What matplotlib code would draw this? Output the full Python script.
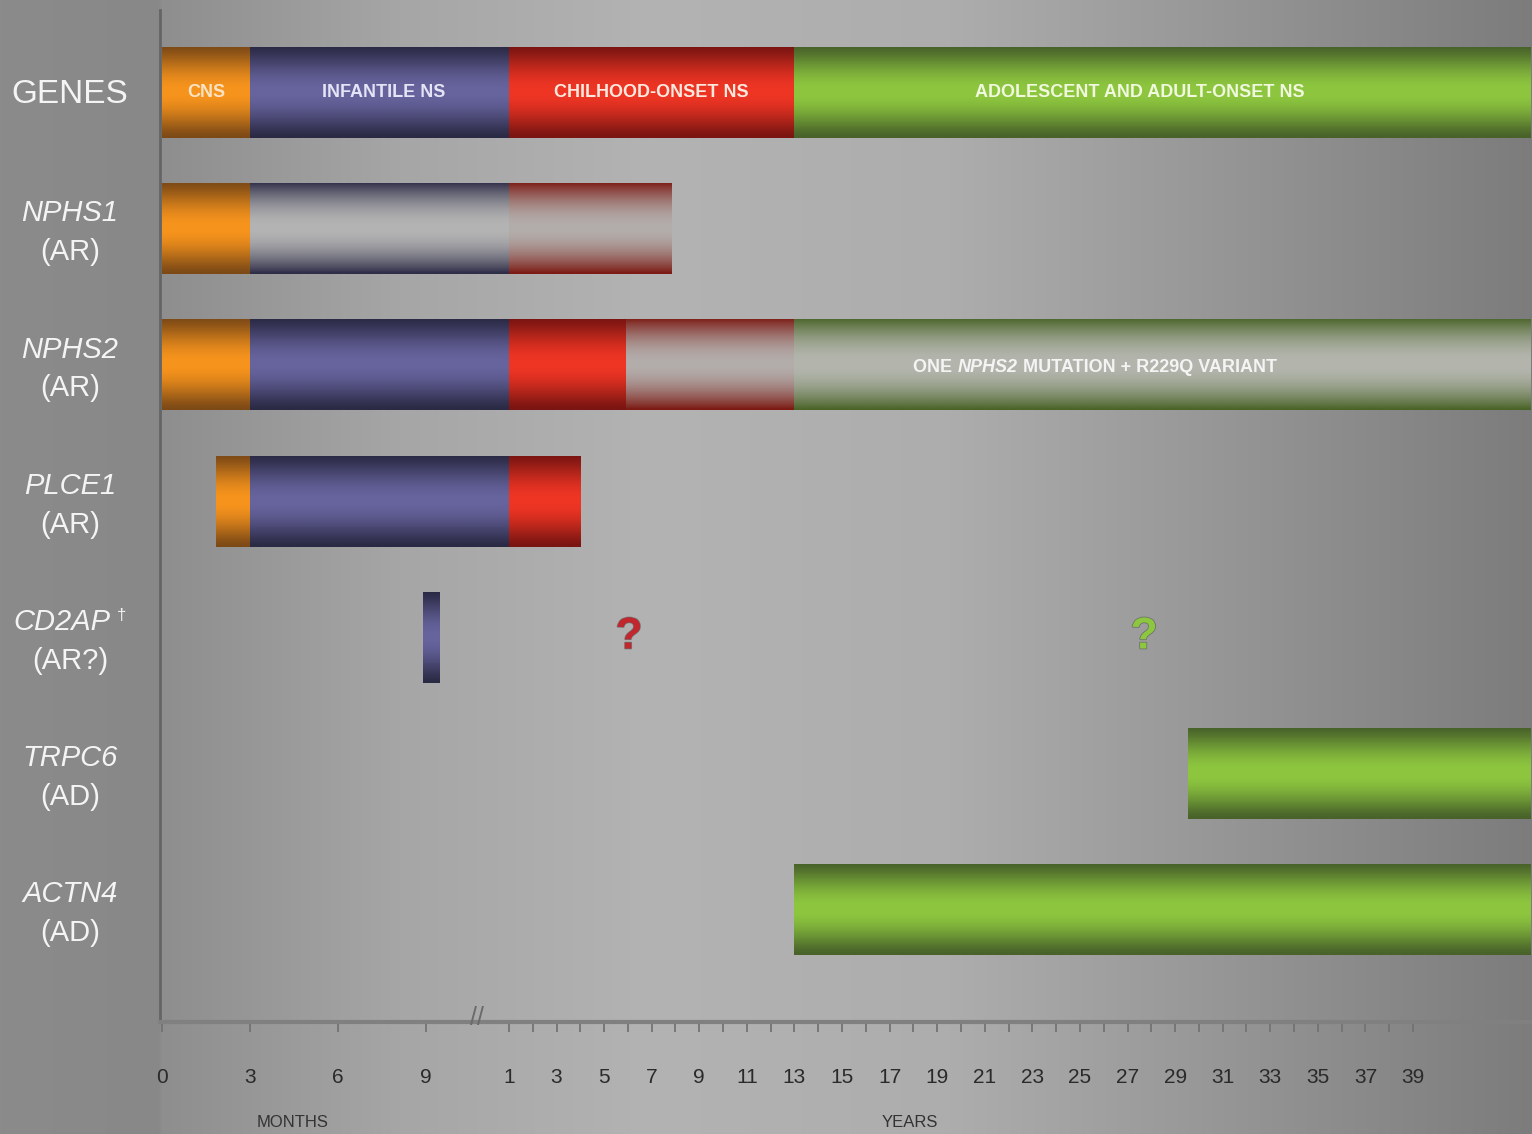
import numpy as np
import matplotlib
matplotlib.use("Agg")
import matplotlib.pyplot as plt
from matplotlib import transforms
import matplotlib.patheffects as pe

plt.rcParams["font.family"] = ["Liberation Sans", "DejaVu Sans"]
NARROW = ["Liberation Sans Narrow", "Liberation Sans", "DejaVu Sans"]

# %% data (all ages in years)
genes = ["GENES", "NPHS1", "NPHS2", "PLCE1", "CD2AP", "TRPC6", "ACTN4"]
inheritance = ["", "(AR)", "(AR)", "(AR)", "(AR?)", "(AD)", "(AD)"]

seg_row = [0, 0, 0, 0,
           1, 1, 1,
           2, 2, 2, 2, 2,
           3, 3, 3,
           4,
           5,
           6]
seg_start = [0.0, 0.25, 1.0, 13.0,
             0.0, 0.25, 1.0,
             0.0, 0.25, 1.0, 5.9, 13.0,
             0.154, 0.25, 1.0,
             0.742,
             29.55,
             13.0]
seg_end = [0.25, 1.0, 13.0, 44.0,
           0.25, 1.0, 7.76,
           0.25, 1.0, 5.9, 13.0, 44.0,
           0.25, 1.0, 3.94,
           0.787,
           44.0,
           44.0]
seg_kind = ["orange", "blue", "red", "green",
            "orange", "blue_f", "red_f",
            "orange", "blue", "red", "red_f", "green_f",
            "orange", "blue", "red",
            "blue",
            "green",
            "green"]

band_labels = ["CNS", "INFANTILE NS", "CHILHOOD-ONSET NS", "ADOLESCENT AND ADULT-ONSET NS"]
band_label_x = [0.125, 0.63, 6.97, 27.5]
band_label_color = ["#fbe3c4", "#e4e4f6", "#fde8de", "#f0f8de"]

question_age = [6.05, 27.7]
question_color = ["#c1272d", "#8dc63f"]

month_ticks = [0, 3, 6, 9]
year_ticks = list(range(1, 40, 2))
year_minor = list(range(2, 39, 2))

# edge colour, middle colour, faded?
styles = {
    "orange": ("#7d4a16", "#f7941d", False),
    "blue": ("#2b2a45", "#67649e", False),
    "red": ("#7a1512", "#ef3524", False),
    "green": ("#48622a", "#8ec73f", False),
    "blue_f": ("#2e2d48", "#b4b4b4", True),
    "red_f": ("#7c1a13", "#b3adab", True),
    "green_f": ("#4a6428", "#b4b6ae", True),
}

# %% piecewise time axis: months up to 9, break, then years
AGE_KNOTS = np.array([-1.0, 0.0, 0.75, 1.0, 60.0])
POS_KNOTS = np.array([-12.0, 0.0, 9.0, 11.84, 11.84 + 59 * 0.812])


def forward(a):
    return np.interp(a, AGE_KNOTS, POS_KNOTS)


def inverse(p):
    return np.interp(p, POS_KNOTS, AGE_KNOTS)


def hex2rgb(h):
    h = h.lstrip("#")
    return np.array([int(h[i:i + 2], 16) / 255 for i in (0, 2, 4)])


def gradient(kind, n=80):
    edge, mid, faded = styles[kind]
    t = np.linspace(0, 1, n)
    w = np.sin(np.pi * t) ** (0.9 if faded else 1.3)
    e, m = hex2rgb(edge), hex2rgb(mid)
    col = e[None, :] + (m - e)[None, :] * w[:, None]
    return col[:, None, :]


W, H = 1532, 1134
fig = plt.figure(figsize=(W / 100, H / 100), dpi=100)

# background
bg = fig.add_axes([0, 0, 1, 1], zorder=-1)
px = np.arange(W)
level = np.interp(px, [0, 158, 162, 400, 650, 950, 1200, 1532],
                  [0x8b, 0x88, 0x8e, 0xa6, 0xb3, 0xad, 0x98, 0x7c]) / 255
bg.imshow(np.repeat(level[None, :, None], 3, axis=2), extent=(0, W, 0, H), aspect="auto")
bg.set_xlim(0, W)
bg.set_ylim(0, H)
bg.axis("off")

ax = fig.add_axes([160 / W, (H - 1022) / H, (W - 160) / W, (1022 - 10) / H])
ax.set_facecolor("none")
ax.set_xscale("function", functions=(forward, inverse))

BAR_H = 0.675
for r, a0, a1, k in zip(seg_row, seg_start, seg_end, seg_kind):
    # overlap the next segment by a hair so no seam shows
    a1x = inverse(forward(a1) + 0.08) if a1 < 44 else a1
    ax.imshow(gradient(k), extent=(a0, a1x, r + BAR_H / 2, r - BAR_H / 2),
              aspect="auto", interpolation="bilinear", zorder=2)

ax.set_xlim(-0.0057, 44.0)
ax.set_ylim(6.826, -0.602)

# band labels on the GENES row
for lab, x, c in zip(band_labels, band_label_x, band_label_color):
    ax.text(x, 0, lab, ha="center", va="center", color=c, fontsize=13,
            fontweight="bold", family=NARROW, zorder=3)

# NPHS2 annotation
t1 = ax.text(18.0, 2.02, "ONE ", ha="left", va="center", color="#f4f4f4",
             fontsize=13, fontweight="bold", family=NARROW, zorder=3)
t2 = ax.annotate("NPHS2", xy=(1, 0.5), xycoords=t1, ha="left", va="center",
                 color="#f4f4f4", fontsize=13, fontweight="bold", style="italic",
                 family=NARROW, zorder=3)
ax.annotate(" MUTATION + R229Q VARIANT", xy=(1, 0.5), xycoords=t2, ha="left",
            va="center", color="#f4f4f4", fontsize=13, fontweight="bold",
            family=NARROW, zorder=3)

# question marks for CD2AP
for a, c in zip(question_age, question_color):
    ax.text(a, 4, "?", ha="center", va="center", fontsize=32, fontweight="bold",
            color=c, zorder=3,
            path_effects=[pe.withStroke(linewidth=1.2, foreground="#55555599")])

# row labels on the left
lt = transforms.blended_transform_factory(fig.transFigure, ax.transData)
for i, (g, m) in enumerate(zip(genes, inheritance)):
    if i == 0:
        ax.text(70 / W, 0.02, g, transform=lt, ha="center", va="center",
                color="#f4f4f4", fontsize=24, clip_on=False)
        continue
    if g == "CD2AP":
        ax.text(62 / W, i - 0.11, g, transform=lt, ha="center", va="center",
                color="#f4f4f4", fontsize=21, style="italic", clip_on=False)
        ax.text(122 / W, i - 0.16, "\u2020", transform=lt, ha="center", va="center",
                color="#f4f4f4", fontsize=12, clip_on=False)
    else:
        ax.text(70 / W, i - 0.11, g, transform=lt, ha="center", va="center",
                color="#f4f4f4", fontsize=21, style="italic", clip_on=False)
    ax.text(70 / W, i + 0.175, m, transform=lt, ha="center", va="center",
            color="#f4f4f4", fontsize=21, clip_on=False)

# axes styling
for s in ("top", "right"):
    ax.spines[s].set_visible(False)
ax.spines["left"].set_color("#656565")
ax.spines["left"].set_linewidth(2)
ax.spines["bottom"].set_color("#808080")
ax.spines["bottom"].set_linewidth(3)
ax.set_yticks([])

ax.set_xticks([m / 12 for m in month_ticks] + year_ticks,
              [str(m) for m in month_ticks] + [str(y) for y in year_ticks])
ax.set_xticks(year_minor, minor=True)
ax.tick_params(axis="x", which="both", direction="out", length=7, width=1.3,
               colors="#737373", labelcolor="#2a2a2a", labelsize=15, pad=26)
for lbl in ax.get_xticklabels():
    lbl.set_family(NARROW)

bt = transforms.blended_transform_factory(ax.transData, ax.transAxes)
ax.text(0.905, 0.004, "//", transform=bt, ha="center", va="center", fontsize=18,
        color="#6a6a6a", clip_on=False)
ax.text(0.37, -0.099, "MONTHS", transform=bt, ha="center", va="center",
        fontsize=12, color="#333333", family=NARROW, clip_on=False)
ax.text(17.85, -0.099, "YEARS", transform=bt, ha="center", va="center",
        fontsize=12, color="#333333", family=NARROW, clip_on=False)

fig.savefig("out.png", dpi=100)
